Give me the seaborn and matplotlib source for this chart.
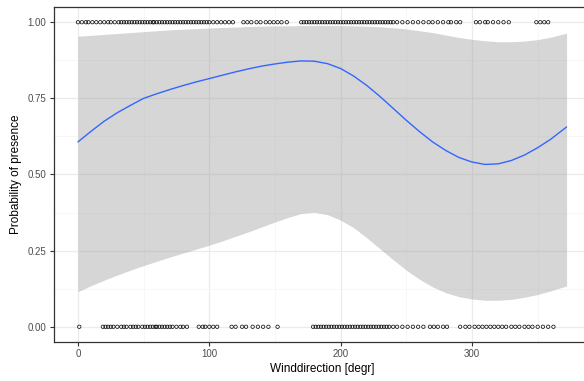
import numpy as np
import pandas as pd
import seaborn as sns
import matplotlib.pyplot as plt

# observations: wind direction where species was present (1) / absent (0)
present_dir = [0, 3, 6, 8, 11, 14, 17, 20, 23, 25, 28, 31, 33, 35, 37, 39, 41, 43,
               45, 47, 49, 51, 53, 55, 57, 58, 60, 62, 64, 66, 68, 70, 72, 74, 76,
               78, 80, 82, 84, 86, 88, 90, 92, 94, 96, 98, 100, 103, 106, 109, 112,
               115, 118, 126, 129, 132, 136, 139, 143, 146, 149, 152, 155, 159, 170,
               172, 174, 176, 178, 180, 182, 184, 186, 188, 190, 192, 194, 196, 198,
               200, 202, 204, 206, 208, 210, 212, 214, 216, 218, 220, 222, 224, 226,
               228, 230, 232, 234, 236, 238, 240, 243, 247, 251, 255, 259, 263, 267,
               270, 274, 278, 282, 284, 288, 291, 303, 306, 310, 312, 316, 320, 324,
               328, 349, 352, 355, 358]
absent_dir = [1, 19, 21, 23, 25, 27, 30, 33, 35, 37, 40, 42, 44, 46, 49, 51, 53, 55,
              57, 59, 60, 62, 64, 66, 68, 70, 72, 75, 78, 80, 83, 92, 95, 97, 100,
              103, 106, 117, 120, 125, 128, 133, 137, 141, 145, 152, 179, 181, 183,
              185, 187, 189, 191, 193, 195, 197, 199, 201, 203, 205, 207, 209, 211,
              213, 215, 217, 219, 221, 223, 225, 227, 229, 231, 233, 235, 237, 240,
              243, 247, 251, 255, 259, 263, 268, 271, 274, 278, 281, 291, 295, 298,
              302, 305, 308, 311, 314, 317, 320, 323, 326, 330, 333, 336, 340, 343,
              346, 350, 354, 358, 362]

fit_x = [0, 10, 20, 30, 40, 50, 60, 70, 80, 90, 100, 110, 120, 130, 140, 150, 160,
         170, 180, 190, 200, 210, 220, 230, 240, 250, 260, 270, 280, 290, 300, 310,
         320, 330, 340, 350, 360, 372]
fit_y = [0.607, 0.642, 0.675, 0.703, 0.727, 0.750, 0.765, 0.779, 0.792, 0.804, 0.815,
         0.826, 0.837, 0.847, 0.856, 0.863, 0.869, 0.873, 0.872, 0.864, 0.848, 0.823,
         0.792, 0.756, 0.717, 0.678, 0.641, 0.607, 0.579, 0.556, 0.541, 0.533, 0.535,
         0.546, 0.564, 0.588, 0.616, 0.656]
upper = [0.954, 0.957, 0.960, 0.963, 0.966, 0.969, 0.972, 0.975, 0.977, 0.979, 0.981,
         0.983, 0.984, 0.986, 0.987, 0.988, 0.988, 0.989, 0.989, 0.989, 0.989, 0.988,
         0.987, 0.985, 0.982, 0.978, 0.972, 0.966, 0.958, 0.950, 0.944, 0.939, 0.936,
         0.936, 0.938, 0.943, 0.951, 0.964]
lower = [0.115, 0.135, 0.153, 0.170, 0.186, 0.201, 0.215, 0.229, 0.242, 0.255, 0.268,
         0.282, 0.297, 0.312, 0.328, 0.344, 0.359, 0.372, 0.376, 0.368, 0.350, 0.325,
         0.292, 0.256, 0.220, 0.186, 0.156, 0.131, 0.112, 0.099, 0.091, 0.087, 0.087,
         0.090, 0.097, 0.106, 0.118, 0.134]

pts = pd.DataFrame({
    "dir": present_dir + absent_dir,
    "pres": [1] * len(present_dir) + [0] * len(absent_dir),
})
smooth = pd.DataFrame({"dir": fit_x, "fit": fit_y, "lo": lower, "hi": upper})

sns.set_theme(style="whitegrid")
plt.rcParams["font.family"] = ["Liberation Sans", "DejaVu Sans"]

fig = plt.figure(figsize=(5.84, 3.81), dpi=100)
ax = fig.add_axes([53.5 / 584, 1 - 342 / 381, (591 - 53.5) / 584, (342 - 7) / 381])
ax.set_facecolor("white")

ax.fill_between(smooth["dir"], smooth["lo"], smooth["hi"], color="#999999",
                alpha=0.4, lw=0, zorder=2)
sns.lineplot(data=smooth, x="dir", y="fit", color="#3366FF", lw=1, ax=ax, zorder=3)
sns.scatterplot(data=pts, x="dir", y="pres", marker="o", s=6, facecolor="none",
                edgecolor="black", linewidth=0.5, ax=ax, zorder=4)

ax.set_xlim(-18.6, 390.6)
ax.set_ylim(-0.05, 1.05)
ax.set_xticks([0, 100, 200, 300])
ax.set_yticks([0, 0.25, 0.5, 0.75, 1.0])
ax.set_yticklabels(["0.00", "0.25", "0.50", "0.75", "1.00"])
ax.set_xticks([50, 150, 250, 350], minor=True)
ax.set_yticks([0.125, 0.375, 0.625, 0.875], minor=True)
ax.grid(which="major", color="#ebebeb", lw=0.9)
ax.grid(which="minor", color="#f4f4f4", lw=0.5)
ax.set_axisbelow(True)
for s in ax.spines.values():
    s.set_color("#333333")
    s.set_linewidth(0.9)
ax.spines["right"].set_visible(False)
ax.tick_params(which="major", length=3, width=0.8, color="#333333",
               labelsize=7, labelcolor="#4d4d4d", pad=2, bottom=True, left=True)
ax.tick_params(which="minor", length=0)
ax.set_xlabel("Winddirection [degr]", fontsize=8.5, color="black", labelpad=3)
ax.set_ylabel("Probability of presence", fontsize=8.5, color="black", labelpad=4)

fig.savefig("out.png", dpi=100)
